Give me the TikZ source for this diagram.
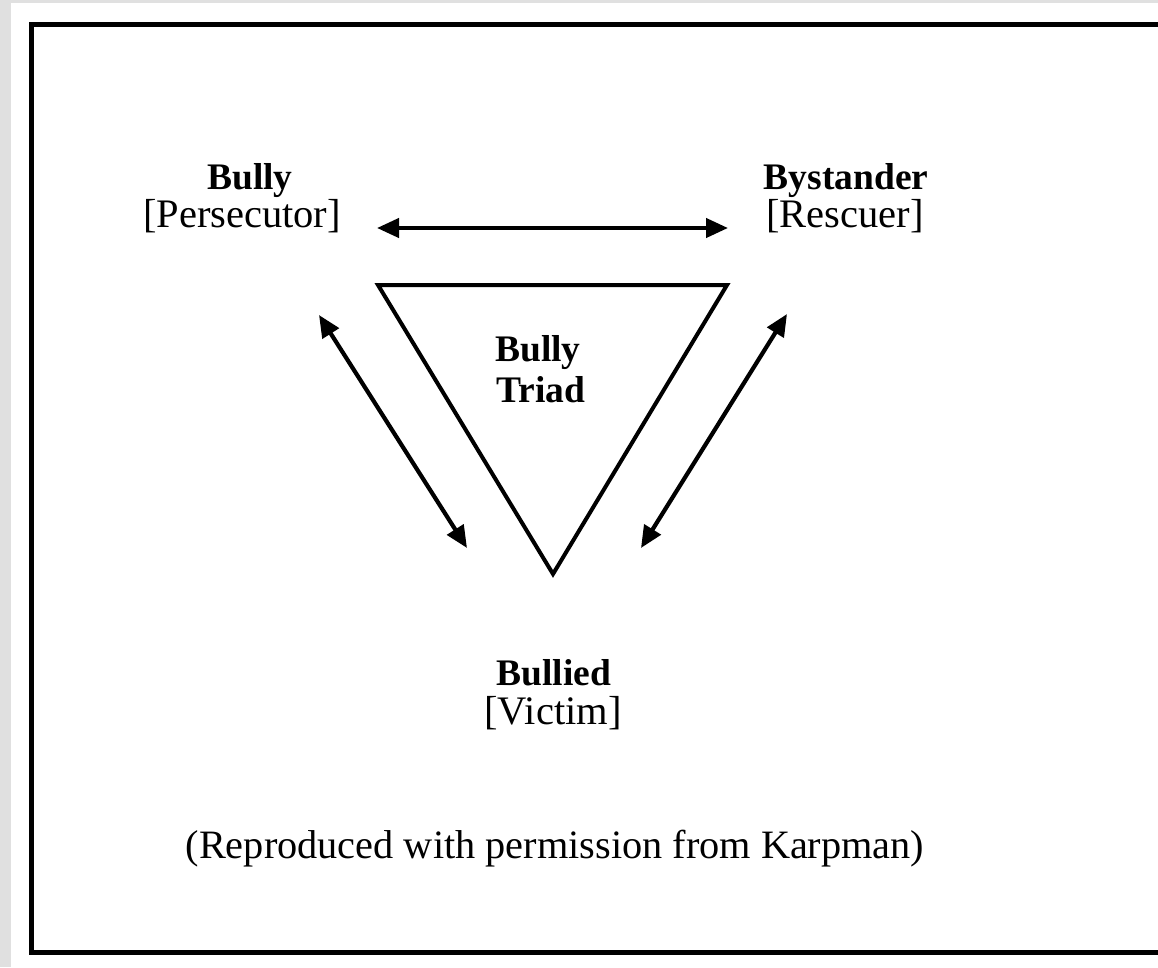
\documentclass[tikz,border=0pt]{standalone}
\usepackage{fontspec}
\setmainfont{Liberation Serif}
\usetikzlibrary{arrows.meta}
\begin{document}
\begin{tikzpicture}[x=1pt,y=-1pt,
  lbl/.style={font=\fontsize{40.5}{40}\selectfont, anchor=base, inner sep=0pt},
  blbl/.style={font=\fontsize{37.5}{40}\selectfont\bfseries, anchor=base, inner sep=0pt},
  dbl/.style={line width=4.2pt, {Triangle[length=22pt,width=19pt]}-{Triangle[length=22pt,width=19pt]}},
  tri/.style={line width=4pt, line join=miter}
  ]
\useasboundingbox (0,0) rectangle (1158,967);
\fill[black!12] (0,0) rectangle (1158,967);
\fill[white] (11,3) rectangle (1158,967);
\draw[line width=5pt] (1158,24) -- (31,24) -- (31,952) -- (1158,952);

% labels
\node[blbl] (bully) at (250,189) {Bully};
\node[lbl] (pers) at (242,227) {[Persecutor]};
\node[blbl] (byst) at (846,189) {Bystander};
\node[lbl] (resc) at (845,227) {[Rescuer]};
\node[blbl] (bullied) at (554,685) {Bullied};
\node[lbl] (vict) at (553,724) {[Victim]};
\node[blbl] (triad1) at (538,361) {Bully};
\node[blbl] (triad2) at (541,402) {Triad};
\node[lbl, font=\fontsize{40.3}{40}\selectfont] (note) at (555,858) {(Reproduced with permission from Karpman)};

% triangle
\coordinate (tA) at (378,285);
\coordinate (tB) at (727,285);
\coordinate (tC) at (553,574);
\draw[tri] (tA) -- (tB) -- (tC) -- cycle;

% arrow ends
\coordinate (h1) at (377,228);
\coordinate (h2) at (728,228);
\coordinate (l1) at (319,315);
\coordinate (l2) at (467,548);
\coordinate (r1) at (787,314);
\coordinate (r2) at (641,548);
\draw[dbl] (h1) -- (h2);
\draw[dbl] (l1) -- (l2);
\draw[dbl] (r1) -- (r2);
\end{tikzpicture}
\end{document}
